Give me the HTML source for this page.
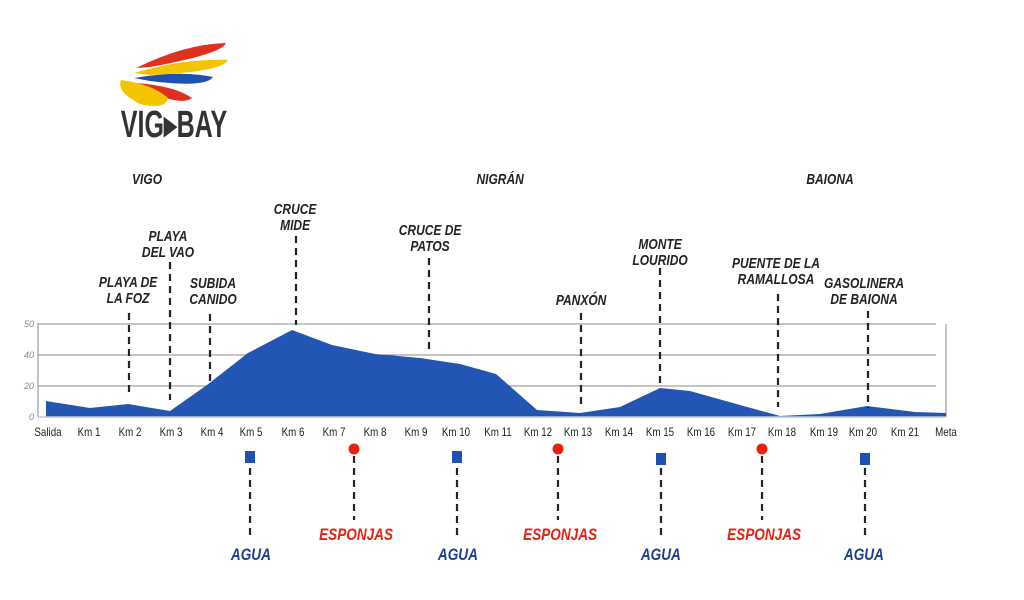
<!DOCTYPE html>
<html><head><meta charset="utf-8"><style>
body{margin:0;background:#fff}
svg text{font-family:"Liberation Sans Narrow","Liberation Sans",sans-serif;transform-box:fill-box;transform-origin:center}
.t text{font-weight:bold;font-style:italic;font-size:15px;fill:#222;text-anchor:middle;transform:scaleX(0.8)}
.k text{font-size:11.5px;fill:#222;text-anchor:middle;transform:scaleX(0.85)}
.d{stroke:#222;stroke-width:2.2;stroke-dasharray:7,5}
</style></head><body>
<svg width="1024" height="595" viewBox="0 0 1024 595" xmlns="http://www.w3.org/2000/svg">
<g>
<path d="M136,68 Q185,44 226,43 Q222,54 150,67 Z" fill="#e03020"/>
<path d="M134,73 Q185,58 228,60 Q222,72 150,75 Z" fill="#f5c400"/>
<path d="M134,78 Q180,70 213,77 Q206,88 150,81 Z" fill="#2050b0"/>
<path d="M136,83 Q175,86 192,98 Q182,106 150,92 Z" fill="#e03020"/>
<path d="M121,80 Q152,84 168,98 Q166,110 140,104 Q116,92 121,80 Z" fill="#f5c400"/>
<text x="174" y="137" style="font-weight:bold;font-size:38px;fill:#333;text-anchor:middle;transform:scaleX(0.66)">VIG▸BAY</text>
</g>
<g class="t"><text x="147" y="184">VIGO</text><text x="500" y="184">NIGRÁN</text><text x="830" y="184">BAIONA</text></g>
<g stroke="#888" stroke-width="1">
<line x1="38" y1="324" x2="936" y2="324"/><line x1="38" y1="355" x2="936" y2="355"/><line x1="38" y1="386" x2="936" y2="386"/>
<line x1="38" y1="323" x2="38" y2="417"/><line x1="946" y1="324" x2="946" y2="417"/>
</g>
<g style="font-size:9px;fill:#888;font-style:italic" text-anchor="end">
<text x="34" y="327">50</text><text x="34" y="358">40</text><text x="34" y="389">20</text><text x="34" y="420">0</text></g>
<path fill="#2355b5" d="M46,401 L90,408 L128,404 L170,411 L207,385 L248,353 L292,330 L332,345 L375,354 L420,358 L460,364 L496,374 L537,410 L580,413 L620,407 L660,388 L690,391 L740,405 L780,416 L820,414 L867,406 L915,412 L946,413 L946,417 L46,417 Z"/>
<line x1="38" y1="417" x2="946" y2="417" stroke="#bcd" stroke-width="1.5"/>
<g class="k">
<text x="48" y="436">Salida</text><text x="89" y="436">Km 1</text><text x="130" y="436">Km 2</text><text x="171" y="436">Km 3</text><text x="212" y="436">Km 4</text><text x="251" y="436">Km 5</text><text x="293" y="436">Km 6</text><text x="334" y="436">Km 7</text><text x="375" y="436">Km 8</text><text x="416" y="436">Km 9</text><text x="456" y="436">Km 10</text><text x="498" y="436">Km 11</text><text x="538" y="436">Km 12</text><text x="578" y="436">Km 13</text><text x="619" y="436">Km 14</text><text x="660" y="436">Km 15</text><text x="701" y="436">Km 16</text><text x="742" y="436">Km 17</text><text x="782" y="436">Km 18</text><text x="824" y="436">Km 19</text><text x="863" y="436">Km 20</text><text x="905" y="436">Km 21</text><text x="946" y="436">Meta</text>
</g>
<g class="d">
<line x1="129" y1="313" x2="129" y2="392"/><line x1="170" y1="262" x2="170" y2="400"/><line x1="210" y1="314" x2="210" y2="382"/>
<line x1="296" y1="236" x2="296" y2="325"/><line x1="429" y1="258" x2="429" y2="352"/><line x1="581" y1="313" x2="581" y2="408"/>
<line x1="660" y1="268" x2="660" y2="385"/><line x1="778" y1="294" x2="778" y2="407"/><line x1="868" y1="311" x2="868" y2="408"/>
</g>
<g class="t">
<text x="128" y="287">PLAYA DE</text><text x="128" y="303">LA FOZ</text>
<text x="168" y="241">PLAYA</text><text x="168" y="257">DEL VAO</text>
<text x="213" y="288">SUBIDA</text><text x="213" y="304">CANIDO</text>
<text x="295" y="214">CRUCE</text><text x="295" y="230">MIDE</text>
<text x="430" y="235">CRUCE DE</text><text x="430" y="251">PATOS</text>
<text x="581" y="305">PANXÓN</text>
<text x="660" y="249">MONTE</text><text x="660" y="265">LOURIDO</text>
<text x="776" y="268">PUENTE DE LA</text><text x="776" y="284">RAMALLOSA</text>
<text x="864" y="288">GASOLINERA</text><text x="864" y="304">DE BAIONA</text>
</g>
<g class="d">
<line x1="250" y1="468" x2="250" y2="540"/><line x1="457" y1="468" x2="457" y2="540"/><line x1="661" y1="468" x2="661" y2="540"/><line x1="865" y1="468" x2="865" y2="540"/>
<line x1="354" y1="456" x2="354" y2="520"/><line x1="558" y1="456" x2="558" y2="520"/><line x1="762" y1="456" x2="762" y2="520"/>
</g>
<g fill="#2050b0"><rect x="245" y="451" width="10" height="12"/><rect x="452" y="451" width="10" height="12"/><rect x="656" y="453" width="10" height="12"/><rect x="860" y="453" width="10" height="12"/></g>
<g fill="#e82010"><circle cx="354" cy="449" r="5.5"/><circle cx="558" cy="449" r="5.5"/><circle cx="762" cy="449" r="5.5"/></g>
<g class="t"><text x="356" y="540" style="font-size:17px;fill:#e82010">ESPONJAS</text><text x="560" y="540" style="font-size:17px;fill:#e82010">ESPONJAS</text><text x="764" y="540" style="font-size:17px;fill:#e82010">ESPONJAS</text></g>
<g class="t"><text x="251" y="560" style="font-size:17px;fill:#1c3f8f">AGUA</text><text x="458" y="560" style="font-size:17px;fill:#1c3f8f">AGUA</text><text x="661" y="560" style="font-size:17px;fill:#1c3f8f">AGUA</text><text x="864" y="560" style="font-size:17px;fill:#1c3f8f">AGUA</text></g>
</svg>
</body></html>
